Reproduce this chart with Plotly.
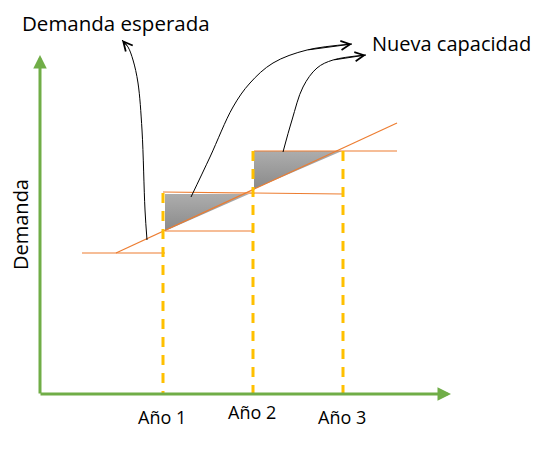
import plotly.graph_objects as go

# diagram coordinates (pixel-like space, y grows downward)
anio_x = [163, 253, 343]
anio_labels = ["Año 1", "Año 2", "Año 3"]
anio_label_y = [417, 412, 417]
anio_top_y = [193, 151, 151]
eje_base_y = 394

# demand line (expected demand)
demanda_x = [116, 397]
demanda_y = [253, 123]

# capacity steps
cap0_x, cap0_y = [82, 165], [253, 253]
cap1_bajo_x, cap1_bajo_y = [165, 254], [231, 231]
cap1_x, cap1_y = [163, 343], [192, 194]
cap2_x, cap2_y = [254, 397], [151, 151]

# new capacity wedges
cuna1_x, cuna1_y = [165, 165, 249, 165], [194, 231, 194, 194]
cuna2_x, cuna2_y = [254, 254, 342, 254], [151, 189, 151, 151]

# curved pointer arrows
flecha1_x = [147, 145, 142, 138, 133, 128, 122]
flecha1_y = [240, 210, 130, 83, 60, 47, 40]
flecha2_x = [191, 210, 233, 250, 273, 307, 352]
flecha2_y = [197, 157, 107, 83, 63, 50, 44]
flecha3_x = [283, 292, 303, 317, 333, 366]
flecha3_y = [152, 120, 87, 68, 60, 55]

naranja = "#ED7D31"
amarillo = "#FFC000"
verde = "#70AD47"
fuente = "Open Sans"
desplaz = 8  # page body margin, shift the view so marks land where they should

fig = go.Figure()

for cx, cy in [(cuna1_x, cuna1_y), (cuna2_x, cuna2_y)]:
    fig.add_trace(go.Scatter(
        x=cx, y=cy, mode="lines", fill="toself", line=dict(width=0),
        fillgradient=dict(type="vertical", colorscale=[[0, "#adadad"], [1, "#8a8a8a"]],
                          start=min(cy), stop=max(cy)),
        hoverinfo="skip"))

for lx, ly in [(cap0_x, cap0_y), (cap1_bajo_x, cap1_bajo_y), (cap1_x, cap1_y),
               (cap2_x, cap2_y), (demanda_x, demanda_y)]:
    fig.add_trace(go.Scatter(x=lx, y=ly, mode="lines",
                             line=dict(color=naranja, width=1.2), hoverinfo="skip"))

for ax_, top in zip(anio_x, anio_top_y):
    fig.add_trace(go.Scatter(x=[ax_, ax_], y=[top, eje_base_y], mode="lines",
                             line=dict(color=amarillo, width=3, dash="10px,8px"),
                             hoverinfo="skip"))

for fx, fy in [(flecha1_x, flecha1_y), (flecha2_x, flecha2_y), (flecha3_x, flecha3_y)]:
    fig.add_trace(go.Scatter(x=fx, y=fy, mode="lines", line_shape="spline",
                             line=dict(color="black", width=1), hoverinfo="skip"))
    fig.add_annotation(x=fx[-1], y=fy[-1], ax=fx[-2], ay=fy[-2], axref="x", ayref="y",
                       text="", showarrow=True, arrowhead=5, arrowsize=1.8,
                       arrowwidth=1, arrowcolor="black", standoff=0)

# green axes with arrow tips
fig.add_annotation(x=40, y=55, ax=40, ay=eje_base_y + 1, axref="x", ayref="y",
                   text="", showarrow=True, arrowhead=2, arrowsize=0.9,
                   arrowwidth=3, arrowcolor=verde, standoff=0)
fig.add_annotation(x=451, y=eje_base_y, ax=39, ay=eje_base_y, axref="x", ayref="y",
                   text="", showarrow=True, arrowhead=2, arrowsize=0.9,
                   arrowwidth=3, arrowcolor=verde, standoff=0)

for ax_, lab, ly in zip(anio_x, anio_labels, anio_label_y):
    fig.add_annotation(x=ax_ - 1, y=ly, text=lab, showarrow=False,
                       font=dict(family=fuente, size=18, color="black"))

fig.add_annotation(x=116, y=23, text="Demanda esperada", showarrow=False,
                   font=dict(family=fuente, size=20.5, color="black"))
fig.add_annotation(x=451, y=43, text="Nueva capacidad", showarrow=False,
                   font=dict(family=fuente, size=20, color="black"))
fig.add_annotation(x=20, y=225, text="Demanda", showarrow=False, textangle=-90,
                   font=dict(family=fuente, size=20, color="black"))

fig.update_layout(
    width=543, height=475, autosize=False,
    margin=dict(l=0, r=0, t=0, b=0),
    paper_bgcolor="white", plot_bgcolor="white",
    showlegend=False,
    xaxis=dict(range=[desplaz, 543 + desplaz], visible=False, fixedrange=True),
    yaxis=dict(range=[475 + desplaz, desplaz], visible=False, fixedrange=True),
)

fig.write_html("out.html")
